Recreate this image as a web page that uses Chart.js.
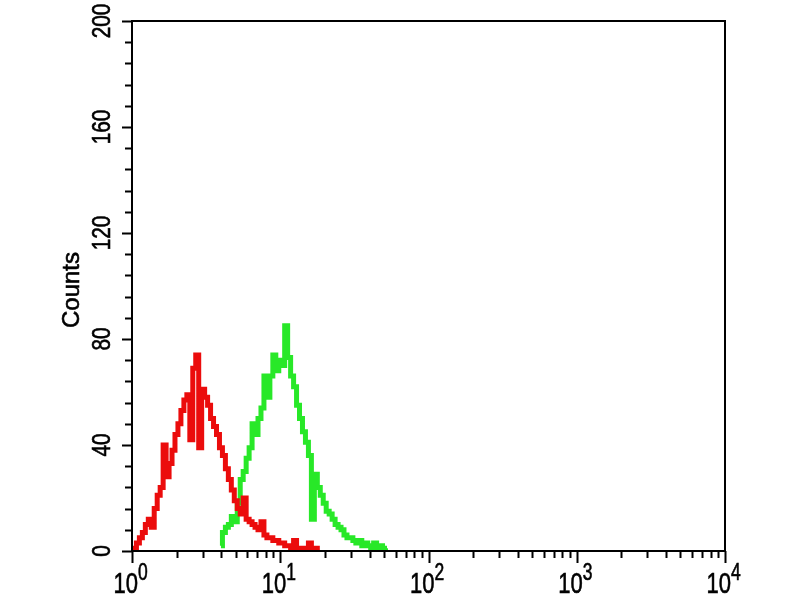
<!DOCTYPE html>
<html>
<head>
<meta charset="utf-8">
<title>Counts histogram</title>
<script src="https://cdn.jsdelivr.net/npm/chart.js@4/dist/chart.umd.min.js"></script>
<style>
  body { margin: 0; background: #fff; }
  #wrap { width: 800px; height: 600px; }
</style>
</head>
<body>
<div id="wrap"><canvas id="myChart" width="800" height="600"></canvas></div>
<script>
// fluorescence channels (log spaced)
var fluor = [1.000, 1.047, 1.096, 1.148, 1.202, 1.259, 1.318, 1.380, 1.445, 1.514,
  1.585, 1.660, 1.738, 1.820, 1.905, 1.995, 2.089, 2.188, 2.291, 2.399,
  2.512, 2.630, 2.754, 2.884, 3.020, 3.162, 3.311, 3.467, 3.631, 3.802,
  3.981, 4.169, 4.365, 4.571, 4.786, 5.012, 5.248, 5.495, 5.754, 6.026,
  6.310, 6.607, 6.918, 7.244, 7.586, 7.943, 8.318, 8.710, 9.120, 9.550,
  10.00, 10.47, 10.96, 11.48, 12.02, 12.59, 13.18, 13.80, 14.45, 15.14,
  15.85, 16.60, 17.38, 18.20, 19.05, 19.95, 20.89, 21.88, 22.91, 23.99,
  25.12, 26.30, 27.54, 28.84, 30.20, 31.62, 33.11, 34.67, 36.31, 38.02,
  39.81, 41.69, 43.65, 45.71, 47.86, 50.12, 52.48];

// red histogram (control)
var redCounts = [0, 1, 3, 5, 7, 10, 12, 9, 16, 21,
  24, 40, 28, 33, 38, 44, 48, 53, 57, 59,
  42, 69, 74, 39, 61, 58, 55, 50, 47, 44,
  39, 36, 31, 27, 23, 19, 16, 14, 20, 12,
  11, 10, 9, 8, 11, 6, 5, 5, 4, 4,
  3, 3, 2, 2, 1, 4, 1, 0, 1, 0,
  3, 0, 1, 0, null, null, null, null, null, null,
  null, null, null, null, null, null, null, null, null, null,
  null, null, null, null, null, null, null];

// green histogram (stained)
var greenCounts = [null, null, null, null, null, null, null, null, null, null,
  null, null, null, null, null, null, null, null, null, null,
  null, null, null, null, null, null, null, null, null, null,
  2, 7, 9, 10, 13, 11, 18, 27, 30, 35,
  39, 48, 44, 50, 54, 66, 58, 66, 74, 68,
  72, 70, 85, 73, 66, 62, 55, 50, 45, 41,
  36, 12, 29, 24, 21, 18, 15, 14, 12, 10,
  9, 8, 6, 5, 5, 4, 3, 4, 2, 3,
  2, 1, 3, 1, 2, 0, 1];

// axis ticks
var yMinorTicks = [0, 8, 16, 24, 32, 40, 48, 56, 64, 72, 80, 88, 96, 104, 112, 120,
  128, 136, 144, 152, 160, 168, 176, 184, 192, 200];
var yLabels = [0, 40, 80, 120, 160, 200];
var xDecades = [1, 10, 100, 1000, 10000];
var xExponents = ['0', '1', '2', '3', '4'];

var FONT = '"Liberation Sans", Arial, sans-serif';

// text with a thin outline so it looks as heavy as the scanned original
function heavyText(ctx, txt, x, y) {
  ctx.fillText(txt, x, y);
  ctx.strokeText(txt, x, y);
}

// draws the box, the tick marks and the labels on top of the chart
var axesPlugin = {
  id: 'axesPlugin',
  afterDraw: function(chart) {
    var ctx = chart.ctx;
    var a = chart.chartArea;
    var x = chart.scales.x;
    var y = chart.scales.y;
    ctx.save();
    ctx.strokeStyle = '#000';
    ctx.lineWidth = 2;
    ctx.strokeRect(a.left, a.top, a.right - a.left, a.bottom - a.top);

    // y ticks
    ctx.beginPath();
    yMinorTicks.forEach(function(v) {
      var py = Math.round(y.getPixelForValue(v)) + 0.5;
      var len = v % 40 === 0 ? 10 : 7;
      ctx.moveTo(a.left, py);
      ctx.lineTo(a.left - len, py);
    });
    // x ticks, 1..9 in every decade
    xDecades.forEach(function(d, i) {
      var px = Math.round(x.getPixelForValue(d)) + 0.5;
      ctx.moveTo(px, a.bottom);
      ctx.lineTo(px, a.bottom + 12);
      if (i < xDecades.length - 1) {
        for (var m = 2; m <= 9; m++) {
          var pm = Math.round(x.getPixelForValue(d * m)) + 0.5;
          ctx.moveTo(pm, a.bottom);
          ctx.lineTo(pm, a.bottom + 7);
        }
      }
    });
    ctx.lineWidth = 2;
    ctx.stroke();

    ctx.fillStyle = '#000';
    ctx.lineWidth = 0.6;
    // y labels, rotated and a bit narrow like the original
    yLabels.forEach(function(v) {
      var py = y.getPixelForValue(v);
      ctx.save();
      ctx.translate(102, py);
      ctx.rotate(-Math.PI / 2);
      ctx.scale(0.8, 1);
      ctx.font = '26px ' + FONT;
      ctx.textAlign = 'center';
      ctx.textBaseline = 'middle';
      heavyText(ctx, String(v), 0, 1);
      ctx.restore();
    });

    // x labels 10^n
    xDecades.forEach(function(d, i) {
      var px = x.getPixelForValue(d);
      ctx.save();
      ctx.translate(px, 0);
      ctx.scale(0.76, 1);
      ctx.font = '29px ' + FONT;
      ctx.textAlign = 'right';
      ctx.textBaseline = 'alphabetic';
      heavyText(ctx, '10', 8, 593);
      ctx.font = '23px ' + FONT;
      ctx.textAlign = 'left';
      heavyText(ctx, xExponents[i], 8, 580);
      ctx.restore();
    });

    // axis title
    ctx.save();
    ctx.translate(72, 290);
    ctx.rotate(-Math.PI / 2);
    ctx.font = '24px ' + FONT;
    ctx.textAlign = 'center';
    ctx.textBaseline = 'middle';
    heavyText(ctx, 'Counts', 0, 0);
    ctx.restore();

    ctx.restore();
  }
};

var ctx = document.getElementById('myChart').getContext('2d');
var chart = new Chart(ctx, {
  type: 'line',
  data: {
    labels: fluor,
    datasets: [{
      label: 'Control',
      data: redCounts,
      borderColor: 'rgb(235, 12, 12)',
      borderWidth: 5,
      stepped: 'middle',
      pointRadius: 0,
      fill: false
    },
    {
      label: 'Stained',
      data: greenCounts,
      borderColor: 'rgb(40, 232, 40)',
      borderWidth: 5,
      stepped: 'middle',
      pointRadius: 0,
      fill: false
    }]
  },
  options: {
    responsive: false,
    animation: false,
    layout: { padding: { left: 132, top: 21, right: 75, bottom: 49 } },
    plugins: { legend: { display: false }, tooltip: { enabled: false } },
    scales: {
      x: { type: 'logarithmic', min: 1, max: 10000, display: false },
      y: { type: 'linear', min: 0, max: 200, display: false }
    }
  },
  plugins: [axesPlugin]
});
</script>
</body>
</html>
